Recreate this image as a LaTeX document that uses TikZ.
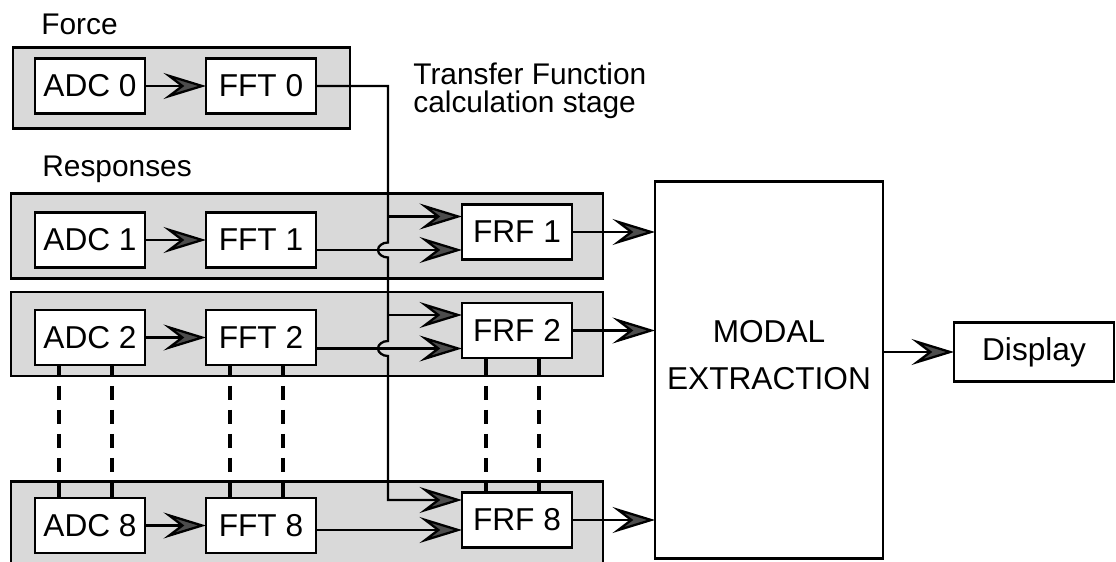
\documentclass[tikz,border=0pt]{standalone}
\usepackage{fontspec}
\setmainfont{Liberation Sans}
\usepackage{tikz}
\usetikzlibrary{arrows.meta, positioning, calc, backgrounds}

\begin{document}
\begin{tikzpicture}[
        blk/.style={
            draw, fill=white, line width=1.6pt, outer sep=0pt, minimum width=2.2cm,
            minimum height=1.1cm, inner sep=1pt, font=\fontsize{18}{22}\selectfont
        },
        lbl/.style={inner sep=0pt, font=\fontsize{17}{16}\selectfont},
        panel/.style={draw, fill=gray!30, line width=1.6pt},
        arrow/.style={line width=1.3pt, -{Stealth[length=0.85cm, width=0.52cm, inset=0.34cm, fill=black!70]}},
        link/.style={line width=2pt}
    ]

        % Frame
        \useasboundingbox (-1.8,1.72) rectangle (20.52,-9.52);

        % Force channel
        \node[blk] (adc0) at (0,0) {ADC 0};
        \node[blk, right=1.22cm of adc0] (fft0) {FFT 0};

        % Response channels
        \node[blk, below=1.98cm of adc0] (adc1) {ADC 1};
        \node[blk, right=1.22cm of adc1] (fft1) {FFT 1};
        \node[blk, right=2.92cm of fft1, yshift=0.16cm] (frf1) {FRF 1};

        \node[blk, below=0.85cm of adc1] (adc2) {ADC 2};
        \node[blk, right=1.22cm of adc2] (fft2) {FFT 2};
        \node[blk, right=2.92cm of fft2, yshift=0.14cm] (frf2) {FRF 2};

        \node[blk, below=2.66cm of adc2] (adc8) {ADC 8};
        \node[blk, right=1.22cm of adc8] (fft8) {FFT 8};
        \node[blk, right=2.92cm of fft8, yshift=0.11cm] (frf8) {FRF 8};

        % Modal extraction and display
        \node[blk, minimum width=4.56cm, minimum height=7.54cm, right=1.66cm of frf2, yshift=-0.79cm,
              label={[font=\fontsize{18}{27}\selectfont, align=center, yshift=0.3cm]center:MODAL\\EXTRACTION}] (modal) {};
        \node[blk, minimum width=3.2cm, minimum height=1.18cm, right=1.42cm of modal, yshift=0.36cm] (display) {Display};

        % Labels
        \node[lbl, anchor=base west] (force) at ($(adc0.north west)+(0.12,0.47)$) {Force};
        \node[lbl, anchor=base west] (resp) at ($(adc1.north west)+(0.14,0.71)$) {Responses};
        \node[lbl, anchor=north west, align=left] (tfstage) at ($(fft0.north east)+(1.94,-0.08)$) {Transfer Function\\calculation stage};

        % Panels
        \begin{scope}[on background layer]
            \draw[panel] ($(adc0.north west)+(-0.44,0.22)$) rectangle ($(fft0.south east)+(0.68,-0.3)$);
            \foreach \r in {1,2,8}
                \draw[panel] ($(adc\r.west |- frf\r.north)+(-0.48,0.22)$) rectangle ($(frf\r.east |- adc\r.south)+(0.62,-0.22)$);
        \end{scope}

        % FRF inputs
        \coordinate (bus) at ($(fft0.east)+(1.44,0)$);
        \foreach \r/\up/\dn in {1/0.31/-0.36, 2/0.31/-0.36, 8/0.4/-0.2} {
            \coordinate (hi\r) at ($(frf\r.west)+(0,\up)$);
            \coordinate (lo\r) at ($(frf\r.west)+(0,\dn)$);
        }

        % Arrows
        \draw[arrow] (fft0.east) -- (bus)
            -- ($(lo1 -| bus)+(0,0.15)$) arc[start angle=90, end angle=270, x radius=0.2cm, y radius=0.15cm]
            -- ($(lo2 -| bus)+(0,0.15)$) arc[start angle=90, end angle=270, x radius=0.2cm, y radius=0.15cm]
            -- (hi8 -| bus) -- (hi8);
        \draw[arrow] (hi1 -| bus) -- (hi1);
        \draw[arrow] (hi2 -| bus) -- (hi2);
        \foreach \r in {0,1,2,8}
            \draw[arrow] (adc\r) -- (fft\r);
        \foreach \r in {1,2,8} {
            \draw[arrow] (fft\r.east |- lo\r) -- (lo\r);
            \draw[arrow] (frf\r.east) -- (frf\r.east -| modal.west);
        }
        \draw[arrow] (display.west -| modal.east) -- (display.west);

        % Channels 3 to 7
        \foreach \b in {adc,fft,frf}
            \foreach \dx in {-0.62,0.44} {
                \draw[link] ($(\b2.south)+(\dx,0)$) -- ($(\b2.south |- adc2.south)+(\dx,-0.22)$);
                \draw[link, dash pattern=on 0.28cm off 0.2cm, dash phase=0.28cm]
                    ($(\b2.south |- adc2.south)+(\dx,-0.22)$) -- ($(\b8.north |- frf8.north)+(\dx,0.22)$);
                \draw[link] ($(\b8.north |- frf8.north)+(\dx,0.22)$) -- ($(\b8.north)+(\dx,0)$);
            }

\end{tikzpicture}
\end{document}
